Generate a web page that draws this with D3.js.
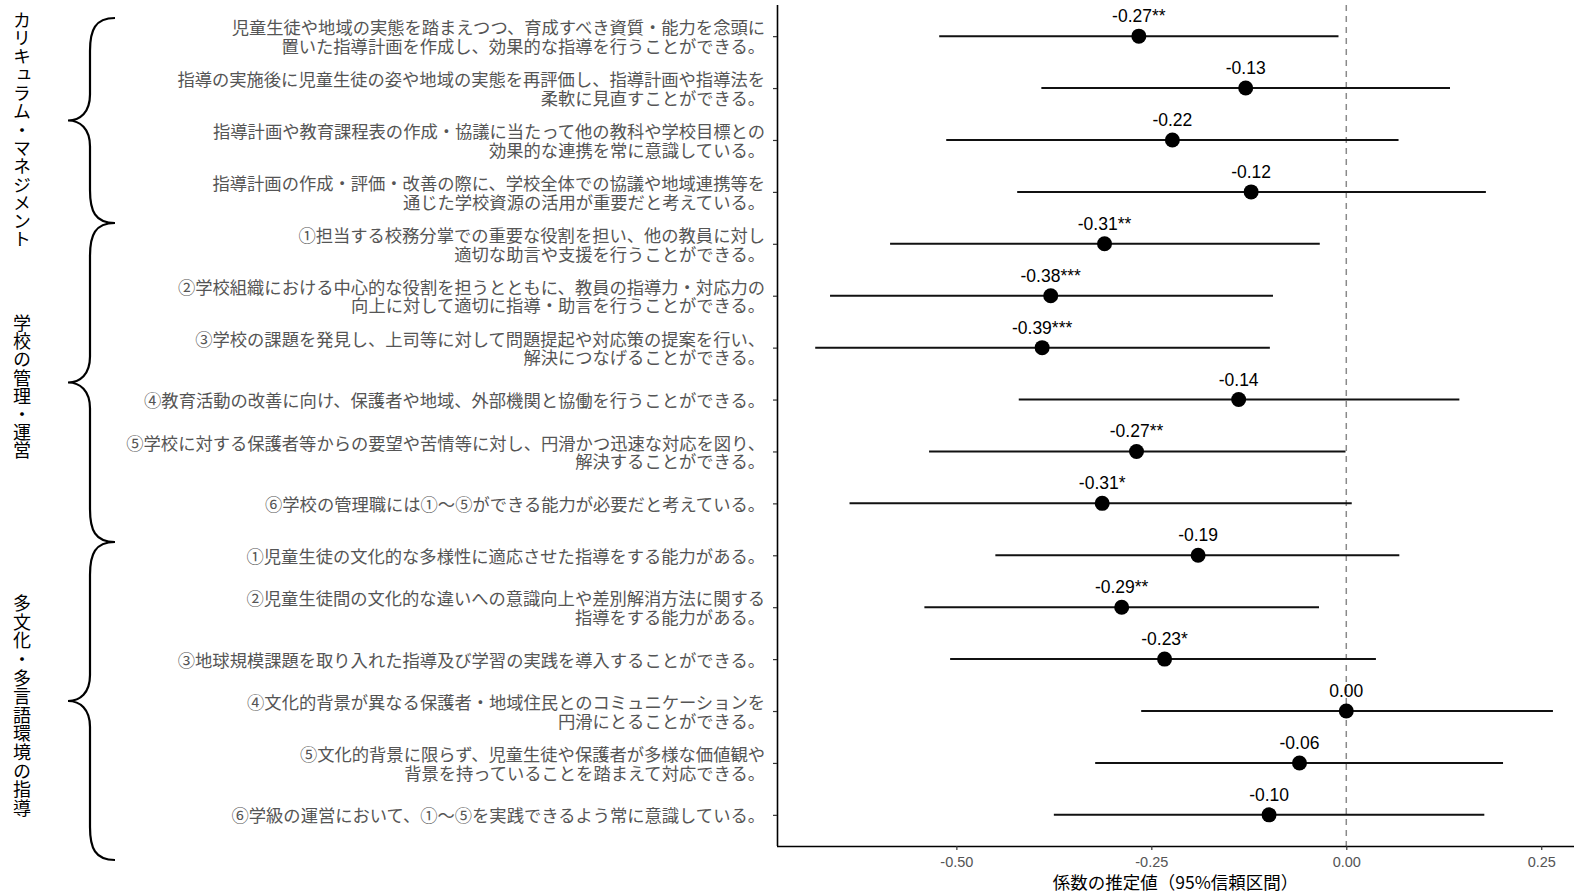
<!DOCTYPE html>
<html><head><meta charset="utf-8">
<script src="https://cdn.jsdelivr.net/npm/d3@7"></script>
<style>
html,body{margin:0;padding:0;background:#fff;}
svg{display:block;}
</style></head>
<body>
<svg id="chart" width="1574" height="893"></svg>
<script>
const items = [
 "児童生徒や地域の実態を踏まえつつ、育成すべき資質・能力を念頭に\n置いた指導計画を作成し、効果的な指導を行うことができる。",
 "指導の実施後に児童生徒の姿や地域の実態を再評価し、指導計画や指導法を\n柔軟に見直すことができる。",
 "指導計画や教育課程表の作成・協議に当たって他の教科や学校目標との\n効果的な連携を常に意識している。",
 "指導計画の作成・評価・改善の際に、学校全体での協議や地域連携等を\n通じた学校資源の活用が重要だと考えている。",
 "①担当する校務分掌での重要な役割を担い、他の教員に対し\n適切な助言や支援を行うことができる。",
 "②学校組織における中心的な役割を担うとともに、教員の指導力・対応力の\n向上に対して適切に指導・助言を行うことができる。",
 "③学校の課題を発見し、上司等に対して問題提起や対応策の提案を行い、\n解決につなげることができる。",
 "④教育活動の改善に向け、保護者や地域、外部機関と協働を行うことができる。",
 "⑤学校に対する保護者等からの要望や苦情等に対し、円滑かつ迅速な対応を図り、\n解決することができる。",
 "⑥学校の管理職には①～⑤ができる能力が必要だと考えている。",
 "①児童生徒の文化的な多様性に適応させた指導をする能力がある。",
 "②児童生徒間の文化的な違いへの意識向上や差別解消方法に関する\n指導をする能力がある。",
 "③地球規模課題を取り入れた指導及び学習の実践を導入することができる。",
 "④文化的背景が異なる保護者・地域住民とのコミュニケーションを\n円滑にとることができる。",
 "⑤文化的背景に限らず、児童生徒や保護者が多様な価値観や\n背景を持っていることを踏まえて対応できる。",
 "⑥学級の運営において、①～⑤を実践できるよう常に意識している。"
];
const estimates = [-0.266,-0.129,-0.223,-0.122,-0.310,-0.379,-0.390,-0.138,-0.269,-0.313,-0.190,-0.288,-0.233,0.000,-0.060,-0.099];
const ciLow  = [-0.522,-0.391,-0.513,-0.422,-0.585,-0.662,-0.681,-0.420,-0.535,-0.637,-0.450,-0.541,-0.508,-0.263,-0.322,-0.375];
const ciHigh = [-0.010, 0.133, 0.067, 0.179,-0.034,-0.094,-0.098, 0.145,-0.001, 0.007, 0.068,-0.035, 0.038, 0.265, 0.201, 0.177];
const stars  = ["**","","","","**","***","***","","**","*","","**","*","","",""];
const groups = ["カリキュラム・マネジメント","学校の管理・運営","多文化・多言語環境の指導"];
const xTicks = [-0.5,-0.25,0,0.25];
const xTickLabels = ["-0.50","-0.25","0.00","0.25"];
const xTitle = "係数の推定値（95%信頼区間）";

const svg = d3.select("#chart");
const L = 777, R = 1574, T = 5, B = 846;

const x = d3.scaleLinear().domain([-0.73, 0.292]).range([L, R]);
const y = d3.scalePoint().domain(d3.range(items.length)).range([T, B]).padding(0.6);

// zero reference line
svg.append("line")
  .attr("x1", x(0)).attr("x2", x(0)).attr("y1", T).attr("y2", B)
  .attr("stroke", "#8a8a8a").attr("stroke-width", 1.5).attr("stroke-dasharray", "6,5");

// x axis
const xa = svg.append("g").attr("transform", `translate(0,${B})`)
  .call(d3.axisBottom(x).tickValues(xTicks).tickFormat((d,i) => xTickLabels[i]).tickSize(4).tickSizeOuter(0));
xa.select(".domain").attr("stroke", "#000").attr("stroke-width", 1.6).attr("d", `M${L},0.5H${R}`);
xa.selectAll(".tick line").attr("stroke", "#333").attr("stroke-width", 1.2);
xa.selectAll(".tick text").attr("fill", "#555").attr("font-family", "'Liberation Sans', Arial, sans-serif")
  .attr("font-size", 14.5).attr("dy", "0.95em");

// y axis
const ya = svg.append("g").attr("transform", `translate(${L},0)`)
  .call(d3.axisLeft(y).tickFormat("").tickSize(4).tickSizeOuter(0));
ya.select(".domain").attr("stroke", "#000").attr("stroke-width", 1.6).attr("d", `M0.5,${T}V${B}`);
ya.selectAll(".tick line").attr("stroke", "#333").attr("stroke-width", 1.2);

// item labels
const lab = svg.append("g")
  .attr("font-family", "'Noto Sans CJK JP', sans-serif").attr("font-size", 17.3)
  .attr("fill", "#555").attr("text-anchor", "end");
items.forEach((t, i) => {
  const lines = t.split("\n");
  const lh = 18.5;
  const y0 = y(i) - (lines.length - 1) * lh / 2;
  const tx = lab.append("text").attr("x", L - 12);
  lines.forEach((ln, j) => {
    tx.append("tspan").attr("x", L - 12).attr("y", y0 + j * lh).attr("dominant-baseline", "central").text(ln);
  });
});

// CI bars
svg.append("g").selectAll("line").data(estimates).join("line")
  .attr("x1", (d,i) => x(ciLow[i])).attr("x2", (d,i) => x(ciHigh[i]))
  .attr("y1", (d,i) => y(i)).attr("y2", (d,i) => y(i))
  .attr("stroke", "#111").attr("stroke-width", 2);

// points
svg.append("g").selectAll("circle").data(estimates).join("circle")
  .attr("cx", d => x(d)).attr("cy", (d,i) => y(i)).attr("r", 7.5).attr("fill", "#000");

// value labels
svg.append("g").selectAll("text").data(estimates).join("text")
  .attr("x", d => x(d)).attr("y", (d,i) => y(i) - 20)
  .attr("text-anchor", "middle").attr("dominant-baseline", "central")
  .attr("font-family", "'Liberation Sans', Arial, sans-serif").attr("font-size", 17.5).attr("fill", "#000")
  .text((d,i) => (Math.abs(d) < 0.005 ? "0.00" : d.toFixed(2)) + stars[i]);

// x title
svg.append("text").attr("x", (L + R) / 2).attr("y", 881).attr("text-anchor", "middle")
  .attr("dominant-baseline", "central")
  .attr("font-family", "'Noto Sans CJK JP', sans-serif").attr("font-size", 17.5).attr("fill", "#000")
  .text(xTitle);

// braces and group labels
const braceTops = [18, 223, 542];
const braceBots = [223, 542, 860];
const labelCenters = [130, 387, 706];
const spacing = [0.3, 0.2, 0.6];
const bg = svg.append("g");
groups.forEach((g, k) => {
  const y0 = braceTops[k], y1 = braceBots[k], ym = (y0 + y1) / 2;
  const xe = 115, xs = 90, xt = 68;
  const p = `M${xe},${y0} C${xs+5},${y0} ${xs},${y0+12} ${xs},${y0+33} L${xs},${ym-26} C${xs},${ym-8} ${xt+12},${ym} ${xt},${ym} C${xt+12},${ym} ${xs},${ym+8} ${xs},${ym+26} L${xs},${y1-33} C${xs},${y1-12} ${xs+5},${y1} ${xe},${y1}`;
  bg.append("path").attr("d", p).attr("fill", "none").attr("stroke", "#000").attr("stroke-width", 2.2);
  bg.append("text").attr("x", 22).attr("y", labelCenters[k])
    .attr("text-anchor", "middle")
    .style("writing-mode", "vertical-rl").style("text-orientation", "upright")
    .style("letter-spacing", spacing[k] + "px")
    .attr("font-family", "'Noto Sans CJK JP', sans-serif").attr("font-size", 18).attr("fill", "#000")
    .text(g);
});
</script>
</body></html>
